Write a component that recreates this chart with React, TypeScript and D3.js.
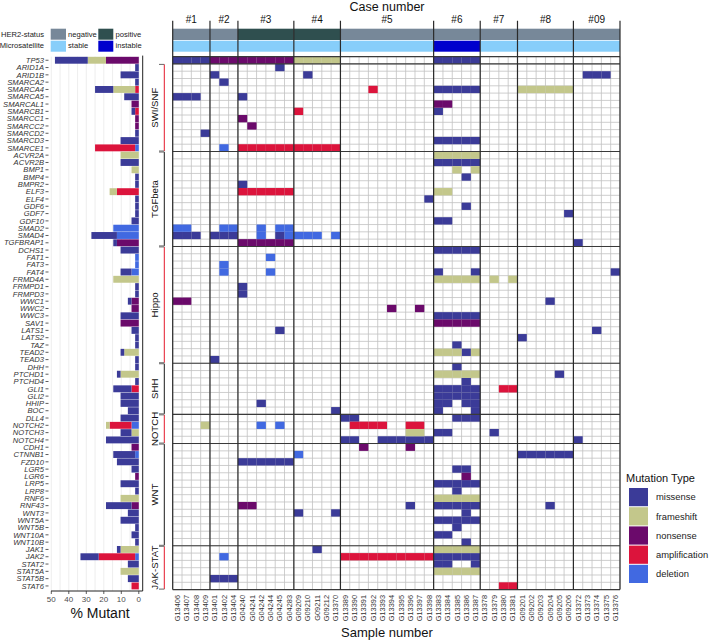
import React from "react";
import * as d3 from "d3";

const caseNames = ["#1", "#2", "#3", "#4", "#5", "#6", "#7", "#8", "#09"];
const caseSamples: string[][] = [
  ["G13406", "G13407", "G13408", "G13409"],
  ["G13401", "G13402", "G13404"],
  ["G04240", "G04241", "G04242", "G04244", "G04245", "G04283"],
  ["G09209", "G09210", "G09211", "G09212", "G13370"],
  ["G13389", "G13390", "G13391", "G13392", "G13393", "G13394", "G13395", "G13396", "G13397", "G13398"],
  ["G13383", "G13384", "G13385", "G13386", "G13387"],
  ["G13378", "G13379", "G13380", "G13381"],
  ["G09201", "G09202", "G09203", "G09204", "G09205", "G09206"],
  ["G13372", "G13373", "G13374", "G13375", "G13376"],
];
const her2Status = ["negative", "negative", "positive", "positive", "negative", "negative", "negative", "negative", "negative"];
const msiStatus = ["stable", "stable", "stable", "stable", "stable", "instable", "stable", "stable", "stable"];

const genes = [
  "TP53",
  "ARID1A", "ARID1B", "SMARCA2", "SMARCA4", "SMARCA5", "SMARCAL1", "SMARCB1", "SMARCC1", "SMARCC2", "SMARCD2", "SMARCD3", "SMARCE1",
  "ACVR2A", "ACVR2B", "BMP1", "BMP4", "BMPR2", "ELF3", "ELF4", "GDF6", "GDF7", "GDF10", "SMAD2", "SMAD4", "TGFBRAP1",
  "DCHS1", "FAT1", "FAT3", "FAT4", "FRMD4A", "FRMPD1", "FRMPD3", "WWC1", "WWC2", "WWC3", "SAV1", "LATS1", "LATS2", "TAZ", "TEAD2", "TEAD3",
  "DHH", "PTCHD1", "PTCHD4", "GLI1", "GLI2", "HHIP", "BOC",
  "DLL4", "NOTCH2", "NOTCH3", "NOTCH4",
  "CDH1", "CTNNB1", "FZD10", "LGR5", "LGR6", "LRP5", "LRP8", "RNF6", "RNF43", "WNT3", "WNT5A", "WNT5B", "WNT10A", "WNT10B",
  "JAK1", "JAK2", "STAT2", "STAT5A", "STAT5B", "STAT6",
];

const pathways: [string, string, string][] = [
  ["SWI/SNF", "ARID1A", "SMARCE1"],
  ["TGFbeta", "ACVR2A", "TGFBRAP1"],
  ["Hippo", "DCHS1", "TEAD3"],
  ["SHH", "DHH", "BOC"],
  ["NOTCH", "DLL4", "NOTCH4"],
  ["WNT", "CDH1", "WNT10B"],
  ["JAK-STAT", "JAK1", "STAT6"],
];

const mutationTypes = ["missense", "frameshift", "nonsense", "amplification", "deletion"];

// sample column indices (0..47) carrying each mutation type
const missense: [string, number[]][] = [
  ["TP53", [0, 1, 2, 3, 28, 29, 30, 31, 32]],
  ["ARID1A", [11]],
  ["ARID1B", [4, 14, 44, 45, 46]],
  ["SMARCA2", [5]],
  ["SMARCA4", [28, 29, 30, 31, 32]],
  ["SMARCA5", [0, 1, 2, 7]],
  ["SMARCB1", [28]],
  ["SMARCD2", [3]],
  ["SMARCD3", [28, 29, 30, 31, 32]],
  ["ACVR2B", [28, 29, 30, 31, 32]],
  ["BMP4", [31]],
  ["BMPR2", [7]],
  ["ELF4", [27]],
  ["GDF6", [31]],
  ["GDF7", [42]],
  ["GDF10", [28, 29]],
  ["SMAD4", [0, 1, 2, 4, 5, 6, 11]],
  ["TGFBRAP1", [43]],
  ["DCHS1", [28, 29, 30, 31, 32]],
  ["FAT4", [28, 32, 47]],
  ["FRMPD1", [7]],
  ["FRMPD3", [7]],
  ["WWC1", [40]],
  ["WWC3", [28, 29, 30, 31, 32]],
  ["LATS1", [11, 45]],
  ["LATS2", [37]],
  ["TAZ", [30]],
  ["TEAD2", [31]],
  ["TEAD3", [4]],
  ["DHH", [30]],
  ["PTCHD1", [41]],
  ["PTCHD4", [31]],
  ["GLI1", [28, 29, 30, 31, 32]],
  ["GLI2", [28, 29, 30, 31, 32]],
  ["HHIP", [9, 28, 29, 31, 32]],
  ["BOC", [17, 28, 32]],
  ["DLL4", [18, 19, 30, 31, 32]],
  ["NOTCH3", [34, 28, 29]],
  ["NOTCH4", [18, 19, 22, 23, 24, 25, 26, 27, 43]],
  ["CTNNB1", [37, 38, 39, 40, 41, 42]],
  ["FZD10", [7, 8, 9, 10, 11, 12]],
  ["LGR5", [30, 31]],
  ["LRP5", [28, 29, 30, 31, 32]],
  ["LRP8", [30]],
  ["RNF43", [25, 28, 29, 30, 31, 32, 40]],
  ["WNT3", [13, 17, 31]],
  ["WNT5A", [28, 29, 30, 31, 32]],
  ["WNT5B", [30]],
  ["WNT10A", [28, 29]],
  ["WNT10B", [31]],
  ["JAK1", [15]],
  ["JAK2", [28, 29, 30, 31, 32]],
  ["STAT2", [28, 29, 32]],
  ["STAT5B", [4, 5, 6]],
];

const frameshift: [string, number[]][] = [
  ["TP53", [13, 14, 15, 16, 17]],
  ["SMARCA4", [37, 38, 39, 40, 41, 42]],
  ["ACVR2A", [28, 29, 30, 31, 32]],
  ["BMP1", [30, 32]],
  ["ELF3", [28, 29]],
  ["FRMD4A", [28, 29, 30, 31, 32, 34, 36]],
  ["TEAD2", [28, 29, 30, 32]],
  ["PTCHD1", [28, 29, 30, 31, 32]],
  ["NOTCH2", [3]],
  ["NOTCH3", [25, 26]],
  ["RNF6", [28, 29, 30, 31, 32]],
  ["JAK1", [28, 29, 30, 31, 32]],
  ["STAT5A", [28, 29, 30, 31, 32]],
];

const nonsense: [string, number[]][] = [
  ["TP53", [4, 5, 6, 7, 8, 9, 10, 11, 12]],
  ["SMARCAL1", [28, 29]],
  ["SMARCC1", [7]],
  ["SMARCC2", [8]],
  ["TGFBRAP1", [7, 8, 9, 10, 11, 12]],
  ["WWC1", [0, 1]],
  ["WWC2", [23, 26]],
  ["SAV1", [28, 29, 30, 31, 32]],
  ["CDH1", [20, 25]],
  ["LGR6", [31]],
  ["RNF43", [7, 8]],
];

const amplification: [string, number[]][] = [
  ["SMARCA4", [21]],
  ["SMARCB1", [13]],
  ["SMARCE1", [7, 8, 9, 10, 11, 12, 13, 14, 15, 16, 17]],
  ["ELF3", [7, 8, 9, 10, 11, 12]],
  ["GLI1", [35, 36]],
  ["NOTCH2", [19, 20, 21, 22, 25, 26]],
  ["JAK2", [18, 19, 20, 21, 22, 23, 24, 25, 26, 27]],
  ["STAT6", [35, 36]],
];

const deletion: [string, number[]][] = [
  ["SMARCE1", [5]],
  ["SMAD2", [0, 1, 5, 6, 9, 11, 12]],
  ["SMAD4", [9, 12, 13, 14, 15, 17]],
  ["FAT1", [10]],
  ["FAT3", [5]],
  ["FAT4", [5, 10]],
  ["NOTCH2", [9, 11]],
  ["CTNNB1", [13]],
  ["JAK2", [5]],
];

const pctTicks = [50, 40, 30, 20, 10, 0];

const typeColor: Record<string, string> = {
  missense: "#3B3B98",
  frameshift: "#C3C78B",
  nonsense: "#6B0A6B",
  amplification: "#DC143C",
  deletion: "#4169E1",
};
const her2Color: Record<string, string> = { negative: "#778899", positive: "#2F4F4F" };
const msiColor: Record<string, string> = { stable: "#87CEFA", instable: "#0000CD" };
const FONT = "'Liberation Sans', Arial, Helvetica, sans-serif";

export default function App() {
  const samples = caseSamples.flat();
  const nS = samples.length;
  const byType: Record<string, [string, number[]][]> = { missense, frameshift, nonsense, amplification, deletion };

  const x = d3.scaleBand<number>().domain(d3.range(nS)).range([172.7, 620]);
  const y = d3.scaleBand<string>().domain(genes).range([56.6, 589.6]);
  const xb = d3.scaleLinear().domain([0, 50]).range([138.8, 51.3]);
  const gx0 = 172.7, gx1 = 620, gy0 = 56.6, gy1 = 589.6;
  const cw = x.bandwidth(), rh = y.bandwidth();

  const cells: { g: string; c: number; t: string }[] = [];
  mutationTypes.forEach((t) => byType[t].forEach(([g, cs]) => cs.forEach((c) => cells.push({ g, c, t }))));

  const table = genes.map((g) => {
    const row: any = { gene: g };
    mutationTypes.forEach((t) => {
      const e = byType[t].find((d) => d[0] === g);
      row[t] = e ? (e[1].length / nS) * 100 : 0;
    });
    return row;
  });
  const stack = d3.stack<any>().keys([...mutationTypes].reverse())(table);

  const starts: number[] = [];
  let acc = 0;
  caseSamples.forEach((s) => { starts.push(acc); acc += s.length; });
  const boundX = (i: number) => (i >= nS ? gx1 : (x(i) as number));

  const legendY0 = 488;
  const legendStep = 19.2;

  return (
    <svg width={709} height={642} style={{ position: "absolute", left: 0, top: 0, background: "#fff" }} fontFamily={FONT}>
      <text x={44} y={37.2} fontSize={7.6} textAnchor="end" fill="#222">HER2-status</text>
      <text x={44} y={48.4} fontSize={7.6} textAnchor="end" fill="#222">Microsatellite</text>
      <rect x={50.7} y={28.7} width={15.3} height={11} fill={her2Color.negative} />
      <rect x={50.7} y={40.7} width={15.3} height={11} fill={msiColor.stable} />
      <rect x={98.3} y={28.7} width={15} height={11} fill={her2Color.positive} />
      <rect x={98.3} y={40.7} width={15} height={11} fill={msiColor.instable} />
      <text x={68} y={37.2} fontSize={7.6} fill="#222">negative</text>
      <text x={68} y={48.4} fontSize={7.6} fill="#222">stable</text>
      <text x={115.5} y={37.2} fontSize={7.6} fill="#222">positive</text>
      <text x={115.5} y={48.4} fontSize={7.6} fill="#222">instable</text>

      <text x={387} y={11} fontSize={12.5} textAnchor="middle" fill="#111">Case number</text>

      {caseNames.map((cn, i) => {
        const a = boundX(starts[i]);
        const b = boundX(starts[i] + caseSamples[i].length);
        return (
          <g key={cn}>
            <text x={(a + b) / 2} y={23.3} fontSize={10} textAnchor="middle" fill="#111">{cn}</text>
            <rect x={a} y={28.7} width={b - a} height={11.3} fill={her2Color[her2Status[i]]} />
            <rect x={a} y={40.7} width={b - a} height={11} fill={msiColor[msiStatus[i]]} />
          </g>
        );
      })}

      <rect x={gx0} y={gy0} width={gx1 - gx0} height={gy1 - gy0} fill="#fff" />
      {d3.range(nS + 1).map((i) => (
        <line key={"v" + i} x1={boundX(i)} x2={boundX(i)} y1={gy0} y2={gy1} stroke="#c2c2c2" strokeWidth={0.8} />
      ))}
      {d3.range(genes.length + 1).map((i) => {
        const yy = i >= genes.length ? gy1 : (y(genes[i]) as number);
        return <line key={"h" + i} x1={gx0} x2={gx1} y1={yy} y2={yy} stroke="#c2c2c2" strokeWidth={0.8} />;
      })}
      {cells.map((d, i) => (
        <rect key={"c" + i} x={x(d.c) as number} y={y(d.g) as number} width={cw} height={rh} fill={typeColor[d.t]} />
      ))}

      {[gy0, y("ARID1A") as number, ...pathways.slice(1).map((p) => y(p[1]) as number), gy1].map((yy, i) => (
        <line key={"gs" + i} x1={gx0} x2={gx1} y1={yy} y2={yy} stroke="#3a3a3a" strokeWidth={1.1} />
      ))}
      {[...starts, nS].map((s, i) => (
        <line key={"cs" + i} x1={boundX(s)} x2={boundX(s)} y1={20.7} y2={gy1} stroke="#2a2a2a" strokeWidth={1.2} />
      ))}

      {samples.map((s, i) => {
        const cx = (x(i) as number) + cw / 2 + 2.6;
        return (
          <text key={s} transform={`translate(${cx},595) rotate(-90)`} fontSize={7.4} textAnchor="end" fill="#333">{s}</text>
        );
      })}
      <text x={387} y={637} fontSize={13} textAnchor="middle" fill="#111">Sample number</text>

      {pathways.map(([name, g0, g1], i) => {
        const a = y(g0) as number;
        const b = (y(g1) as number) + rh;
        const col = i % 2 === 0 ? "#E41A2C" : "#1a1a1a";
        return (
          <g key={name}>
            <line x1={164.3} x2={164.3} y1={a + 0.5} y2={b - 0.5} stroke={col} strokeWidth={1} />
            <line x1={159} x2={164.3} y1={a + 0.5} y2={a + 0.5} stroke="#666" strokeWidth={1} />
            <line x1={159} x2={164.3} y1={b - 0.5} y2={b - 0.5} stroke="#666" strokeWidth={1} />
            <text transform={`translate(157.6,${(a + b) / 2}) rotate(-90)`} fontSize={9.6} textAnchor="middle" fill="#111">{name}</text>
          </g>
        );
      })}

      {d3.range(0, 51, 5).map((v) => (
        <line key={"bg" + v} x1={xb(v)} x2={xb(v)} y1={gy0} y2={591} stroke="#e6e6e6" strokeWidth={0.7} />
      ))}
      {stack.map((layer) => (
        <g key={layer.key} fill={typeColor[layer.key]}>
          {layer.map((d, i) => {
            const w = Math.abs(xb(d[0]) - xb(d[1]));
            if (w <= 0) return null;
            const yc = (y(genes[i]) as number) + rh / 2;
            return <rect key={i} x={xb(d[1])} y={yc - 3.45} width={w} height={6.9} />;
          })}
        </g>
      ))}
      <line x1={142.7} x2={142.7} y1={gy0 - 1} y2={591} stroke="#222" strokeWidth={1} />
      <line x1={51} x2={142.7} y1={591} y2={591} stroke="#222" strokeWidth={1} />
      {pctTicks.map((v) => (
        <g key={"t" + v}>
          <line x1={xb(v)} x2={xb(v)} y1={591} y2={594} stroke="#333" strokeWidth={0.8} />
          <text x={xb(v)} y={602.3} fontSize={8} textAnchor="middle" fill="#4d4d4d">{v}</text>
        </g>
      ))}
      <text x={100} y={618} fontSize={14} textAnchor="middle" fill="#111">% Mutant</text>

      {genes.map((g) => {
        const yc = (y(g) as number) + rh / 2;
        return (
          <g key={"gl" + g}>
            <line x1={45.5} x2={48.5} y1={yc} y2={yc} stroke="#333" strokeWidth={0.8} />
            <text x={44} y={yc + 2.7} fontSize={7.6} fontStyle="italic" textAnchor="end" fill="#333">{g}</text>
          </g>
        );
      })}

      <text x={626} y={legendY0 - 6} fontSize={11} fill="#111">Mutation Type</text>
      {mutationTypes.map((t, i) => (
        <g key={"lg" + t}>
          <rect x={629} y={legendY0 + i * legendStep} width={19} height={18.2} fill={typeColor[t]} />
          <text x={656} y={legendY0 + i * legendStep + 12.4} fontSize={9.4} fill="#222">{t}</text>
        </g>
      ))}
    </svg>
  );
}
